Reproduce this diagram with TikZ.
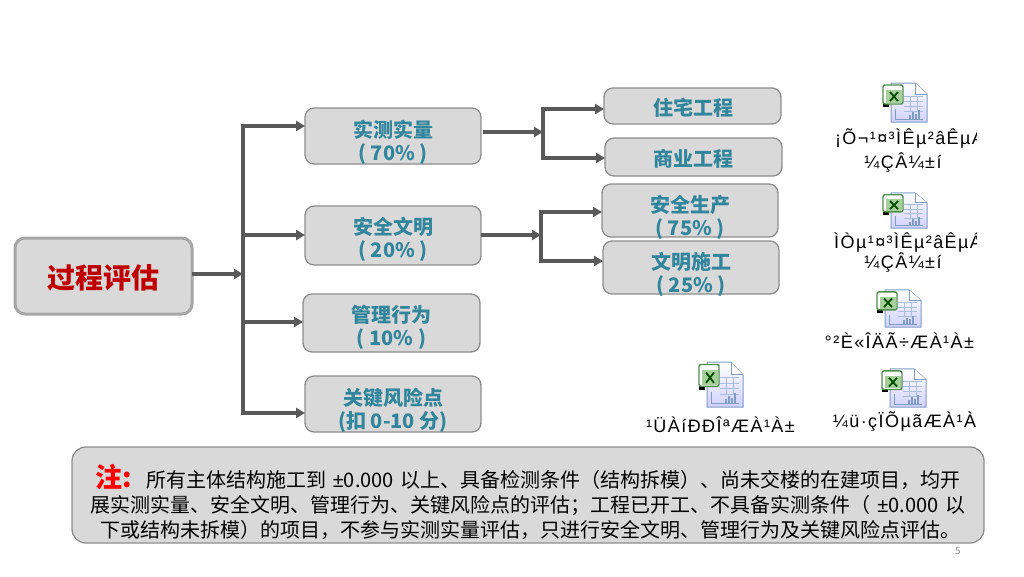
\documentclass[tikz,border=0pt]{standalone}
\usepackage{fontspec}
\setmainfont{Noto Sans CJK SC}
\newfontfamily\xlsfont[LetterSpace=8]{Liberation Sans}
\newfontfamily\latinfont{Liberation Sans}
\usetikzlibrary{arrows.meta}
\definecolor{boxfill}{HTML}{D9D9D9}
\definecolor{boxline}{HTML}{A6A6A6}
\definecolor{flowgray}{HTML}{595959}
\definecolor{tealtext}{HTML}{31859C}
\definecolor{redtext}{HTML}{C00000}
\definecolor{sheetedge}{HTML}{7F9CC6}
\definecolor{sheetgrid}{HTML}{A9BEDD}
\definecolor{badgeedge}{HTML}{4C8F4A}
\definecolor{badgefill}{HTML}{A7CF9A}
\tikzset{
  xlsicon/.pic={
    % sheet
    \draw[draw=sheetedge, top color=white, bottom color=blue!18!white, line width=1pt]
      (9,1) -- (33,1) -- (45,12) -- (45,40) -- (9,40) -- cycle;
    \draw[draw=sheetedge, fill=white, line width=0.7pt] (33,1) -- (33,12) -- (45,12);
    % grid
    \foreach \gy in {14,19,24,29}
      \draw[sheetgrid, line width=0.7pt] (22,\gy) -- (41,\gy);
    \foreach \gx in {28,35}
      \draw[sheetgrid, line width=0.7pt] (\gx,14) -- (\gx,29);
    % chart
    \draw[sheetedge, line width=0.8pt] (13,27) -- (13,37) -- (41,37);
    \foreach \gx/\gy in {28/33,31/30,34/32,37/28}
      \draw[sheetedge, line width=1.2pt] (\gx,37) -- (\gx,\gy);
    % sheet badge
    \fill[black] (1,20) rectangle (7,25);
    \draw[draw=badgeedge, fill=white, line width=1.4pt, rounded corners=2pt] (1,3) rectangle (21,22);
    \fill[badgefill] (4,8) rectangle (20,21);
    \draw[green!30!black, line width=1.8pt] (8,10) -- (16,19) (16,10) -- (8,19);
  }
}
\begin{document}
\begin{tikzpicture}[
    x=1pt, y=-1pt,
    every node/.style={inner sep=0pt, outer sep=0pt},
    mainbox/.style={draw=boxline, fill=boxfill, line width=3pt, rounded corners=10pt},
    catbox/.style={draw=boxline!85!black, fill=boxfill, line width=1.3pt, rounded corners=9pt},
    cattext/.style={text=tealtext, align=center, font=\fontsize{20}{23}\selectfont\bfseries},
    flowline/.style={draw=flowgray, line width=3.3pt},
    xlstext/.style={font=\xlsfont\fontsize{18}{20}\selectfont},
    >={Triangle[length=9pt,width=10pt]}
  ]
  \useasboundingbox (0,0) rectangle (1024,576);

  % left
  \node[mainbox, minimum width=177pt, minimum height=76pt] (guocheng) at (103.5,276) {};
  \node[text=redtext, font=\fontsize{28}{32}\selectfont\bfseries] (guochengt) at (103.5,278) {过程评估};

  % second column
  \node[catbox, minimum width=176pt, minimum height=56pt] (shice) at (393,136) {};
  \node[catbox, minimum width=176pt, minimum height=59pt] (anquan) at (393,235.5) {};
  \node[catbox, minimum width=177pt, minimum height=58pt] (guanli) at (391.5,323) {};
  \node[catbox, minimum width=176pt, minimum height=56pt] (fengxian) at (393,404) {};
  \node[cattext] (shicet) at (393,142) {实测实量\\( 70\% )};
  \node[cattext] (anquant) at (393,239.5) {安全文明\\( 20\% )};
  \node[cattext] (guanlit) at (391.5,327) {管理行为\\( 10\% )};
  \node[cattext] (fengxiant) at (393,410.5) {关键风险点\\(扣 0-10 分)};

  % third column
  \node[catbox, minimum width=177pt, minimum height=36pt] (zhuzhai) at (692.5,106) {};
  \node[catbox, minimum width=177pt, minimum height=38pt] (shangye) at (693.5,157) {};
  \node[catbox, minimum width=176pt, minimum height=53pt] (shengchan) at (690,210.5) {};
  \node[catbox, minimum width=176pt, minimum height=53pt] (shigong) at (691,267.5) {};
  \node[cattext] (zhuzhait) at (693,108) {住宅工程};
  \node[cattext] (shangyet) at (693,158.5) {商业工程};
  \node[cattext] (shengchant) at (690,217) {安全生产\\( 75\% )};
  \node[cattext] (shigongt) at (691,274.5) {文明施工\\( 25\% )};

  % trunk
  \coordinate (trunkin) at (243,274);
  \coordinate (trunka) at (243,126);
  \coordinate (trunkb) at (243,235);
  \coordinate (trunkc) at (243,322);
  \coordinate (trunkd) at (243,413);
  \draw[flowline, ->] (guocheng.east |- trunkin) -- (trunkin);
  \draw[flowline, ->] (trunkin) -- (trunka) -- (shice.west |- trunka);
  \draw[flowline, ->] (trunkin) -- (trunkd) -- (fengxian.west |- trunkd);
  \draw[flowline, ->] (trunkb) -- (anquan.west |- trunkb);
  \draw[flowline, ->] (trunkc) -- (guanli.west |- trunkc);

  % shice branch
  \coordinate (shicein) at (543,132);
  \coordinate (shicea) at (543,109);
  \coordinate (shiceb) at (543,158);
  \draw[flowline, ->, shorten <=2pt] (shice.east |- shicein) -- (shicein);
  \draw[flowline, ->] (shicein) -- (shicea) -- (zhuzhai.west |- shicea);
  \draw[flowline, ->] (shicein) -- (shiceb) -- (shangye.west |- shiceb);

  % anquan branch
  \coordinate (anquanin) at (541,235);
  \coordinate (anquana) at (541,212);
  \coordinate (anquanb) at (541,261);
  \draw[flowline, ->] (anquan.east |- anquanin) -- (anquanin);
  \draw[flowline, ->] (anquanin) -- (anquana) -- (shengchan.west |- anquana);
  \draw[flowline, ->] (anquanin) -- (anquanb) -- (shigong.west |- anquanb);

  % icons
  \pic[xscale=1, yscale=1] at (882,82) {xlsicon};
  \pic[xscale=1, yscale=0.9] at (882,192) {xlsicon};
  \pic[xscale=1, yscale=0.95] at (876,289) {xlsicon};
  \pic[xscale=1, yscale=1.15] at (698,361) {xlsicon};
  \pic[xscale=1, yscale=0.975] at (881,368) {xlsicon};

  % icon captions
  \begin{scope}
    \clip (830,125) rectangle (976,175);
    \node[xlstext, anchor=west] (zhuzhaixls) at (835,138) {¡Õ¬¹¤³ÌÊµ²âÊµÁ};
    \node[xlstext] (zhuzhaixlsb) at (903,163) {¼ÇÂ¼±í};
  \end{scope}
  \begin{scope}
    \clip (832,230) rectangle (976,275);
    \node[xlstext, anchor=east] (shangyexls) at (982,242) {ÉÌÒµ¹¤³ÌÊµ²âÊµÁ};
    \node[xlstext] (shangyexlsb) at (903,263) {¼ÇÂ¼±í};
  \end{scope}
  \begin{scope}
    \clip (822,330) rectangle (976,352);
    \node[xlstext, anchor=east] (anquanxls) at (974,341) {°²È«ÎÄÃ÷ÆÀ¹À±};
  \end{scope}
  \begin{scope}
    \clip (645,415) rectangle (794,436);
    \node[xlstext, anchor=west] (guanlixls) at (646,425) {¹ÜÀíÐÐÎªÆÀ¹À±í};
  \end{scope}
  \begin{scope}
    \clip (831,410) rectangle (976,432);
    \node[xlstext, anchor=west] (fengxianxls) at (810,421) {¹Ø¼ü·çÏÕµãÆÀ¹À±};
  \end{scope}

  % note
  \node[draw=boxline!85!black, fill=boxfill, line width=1.3pt, rounded corners=14pt,
    minimum width=912pt, minimum height=96pt] (note) at (528,495) {};
  \node[anchor=west, align=left, font=\fontsize{20}{25}\selectfont] (notet) at (90,502) {%
    \hspace*{5pt}{\color{red}\fontsize{27}{25}\selectfont\bfseries 注:}\hspace*{15pt}所有主体结构施工到\hspace*{2pt} {\latinfont ±}0.000\hspace*{2pt} 以上、具备检测条件（结构拆模）、尚未交楼的在建项目，均开\\
    展实测实量、安全文明、管理行为、关键风险点的评估；工程已开工、不具备实测条件（\hspace*{3pt} {\latinfont ±}0.000\hspace*{3pt} 以\\
    \hspace*{10pt}下或结构未拆模）的项目，不参与实测实量评估，只进行安全文明、管理行为及关键风险点评估。};
  \node[text=black!45, font=\fontsize{10}{12}\selectfont] (pagenum) at (958,551) {5};
\end{tikzpicture}
\end{document}
